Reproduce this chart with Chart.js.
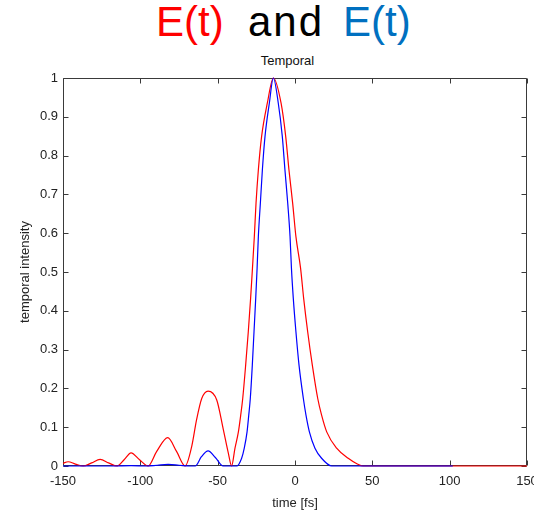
<!DOCTYPE html>
<html>
<head>
<meta charset="utf-8">
<script src="https://cdn.jsdelivr.net/npm/chart.js@4"></script>
<style>
    html, body { margin: 0; padding: 0; background: #fff; }
    #wrap { position: relative; width: 534px; height: 517px; overflow: hidden; }
    #chart { position: absolute; left: 0; top: 0; }
    .big { position: absolute; top: 1px; font: 42px/42px 'Liberation Sans', Arial, sans-serif; white-space: nowrap; }
    #sub { position: absolute; left: 287.5px; top: 54px; transform: translateX(-50%);
           font: 13px/13px 'Liberation Sans', Arial, sans-serif; color: #111; white-space: nowrap; }
</style>
</head>
<body>
<div id="wrap">
    <span class="big" style="left:156px;color:#ff0000">E(t)</span>
    <span class="big" style="left:248px;color:#000;letter-spacing:2px">and</span>
    <span class="big" style="left:343px;color:#0070c0">E(t)</span>
    <div id="sub">Temporal</div>
    <canvas id="chart" width="560" height="517"></canvas>
</div>
<script>
// Intensity profiles, time in fs
const redTime = [-150, -146.7, -142, -137, -131.5, -126, -120.5, -115, -110.5, -106, -100.5, -95,
    -89.5, -82.3, -76.5, -71, -66.8, -63.6, -60.3, -56.2, -50.6, -46.3, -43.1, -41,
    -38.8, -36.6, -35.1, -33.8, -31.9, -30.2, -28.7, -27.5, -26.3, -25.2, -23.7, -21.6,
    -17.9, -14, -9.0, -6.0, -3.9, -1.5, 0.6, 3.6, 5.6, 8.2, 11.2, 14.7,
    17.2, 20.5, 26.9, 34.4, 40, 44, 150];
const redValue = [0.007, 0.011, 0.005, 0.0, 0.008, 0.017, 0.008, 0.0, 0.016, 0.034, 0.016, 0.0,
    0.037, 0.073, 0.037, 0.0, 0.05, 0.12, 0.174, 0.193, 0.17, 0.093, 0.033, 0.0,
    0.046, 0.088, 0.131, 0.174, 0.26, 0.346, 0.432, 0.51, 0.591, 0.677, 0.763, 0.849,
    0.935, 1.0, 0.935, 0.849, 0.763, 0.677, 0.591, 0.51, 0.432, 0.346, 0.26, 0.174,
    0.131, 0.088, 0.046, 0.02, 0.006, 0.0, 0.0];

const blueTime = [-150, -118, -106, -96, -89, -82, -75, -68, -64.5, -60.5, -56.2, -51.5,
    -46.5, -37.7, -34.5, -32.8, -31.0, -29.9, -28.9, -27.6, -26.5, -25.4, -24.5, -23.7,
    -22.4, -21.1, -19.4, -16.6, -14, -10.8, -8.2, -6.5, -4.7, -3.2, -2.3, -1.1,
    0.6, 2.6, 5.4, 7.1, 9.3, 12.9, 17.2, 23.7, 102];
const blueValue = [0, 0, 0.001, 0, 0.002, 0.004, 0.002, 0, 0.0, 0.024, 0.039, 0.022,
    0, 0, 0.02, 0.046, 0.088, 0.131, 0.174, 0.26, 0.346, 0.432, 0.51, 0.591,
    0.677, 0.763, 0.849, 0.935, 1.0, 0.935, 0.849, 0.763, 0.677, 0.591, 0.51, 0.432,
    0.346, 0.26, 0.174, 0.131, 0.088, 0.046, 0.02, 0, 0];

const xTicks = [-150, -100, -50, 0, 50, 100, 150];
const yTicks = [0, 0.1, 0.2, 0.3, 0.4, 0.5, 0.6, 0.7, 0.8, 0.9, 1];

const axisColor = '#3a3a3a';
const labelFont = { family: "'Liberation Sans', Arial, sans-serif", size: 13 };

function toPoints(xs, ys) {
    return xs.map((t, i) => ({ x: t, y: ys[i] }));
}

// Closed box with inward tick marks on all four sides
const boxAxes = {
    id: 'boxAxes',
    beforeDatasetsDraw(chart) {
        const { ctx, chartArea: a, scales: { x, y } } = chart;
        const len = 5;
        const L = Math.round(a.left) + 0.5, R = Math.round(a.right) - 0.5;
        const T = Math.round(a.top) + 0.5, B = Math.round(a.bottom) - 0.5;
        ctx.save();
        ctx.strokeStyle = axisColor;
        ctx.lineWidth = 1;
        ctx.beginPath();
        ctx.rect(L, T, R - L, B - T);
        x.ticks.forEach(tk => {
            const px = Math.round(x.getPixelForValue(tk.value)) + 0.5;
            ctx.moveTo(px, B); ctx.lineTo(px, B - len);
            ctx.moveTo(px, T); ctx.lineTo(px, T + len);
        });
        y.ticks.forEach(tk => {
            const py = Math.round(y.getPixelForValue(tk.value)) + 0.5;
            ctx.moveTo(L, py); ctx.lineTo(L + len, py);
            ctx.moveTo(R, py); ctx.lineTo(R - len, py);
        });
        ctx.stroke();
        ctx.restore();
    }
};

new Chart(document.getElementById('chart'), {
    type: 'line',
    data: {
        datasets: [
            {
                label: 'E(t) blue',
                data: toPoints(blueTime, blueValue),
                borderColor: '#0000ff',
                borderWidth: 1.2,
                pointRadius: 0,
                cubicInterpolationMode: 'monotone',
                clip: 3
            },
            {
                label: 'E(t) red',
                data: toPoints(redTime, redValue),
                borderColor: '#ff0000',
                borderWidth: 1.2,
                pointRadius: 0,
                cubicInterpolationMode: 'monotone',
                clip: 3
            }
        ]
    },
    options: {
        responsive: false,
        animation: false,
        layout: { padding: { top: 78, right: 33, bottom: 0, left: 0 } },
        plugins: {
            legend: { display: false },
            tooltip: { enabled: false }
        },
        scales: {
            x: {
                type: 'linear',
                min: -150,
                max: 150,
                grid: { display: false, drawTicks: false },
                border: { display: false },
                afterBuildTicks: scale => { scale.ticks = xTicks.map(v => ({ value: v })); },
                afterFit: scale => { scale.height = 51; },
                ticks: { color: '#222', font: labelFont, padding: 8, maxRotation: 0 },
                title: { display: true, text: 'time [fs]', color: '#222', font: labelFont, padding: { top: 0, bottom: 6 } }
            },
            y: {
                min: 0,
                max: 1,
                grid: { display: false, drawTicks: false },
                border: { display: false },
                afterBuildTicks: scale => { scale.ticks = yTicks.map(v => ({ value: v })); },
                afterFit: scale => { scale.width = 63; },
                ticks: {
                    color: '#222',
                    font: labelFont,
                    padding: 5,
                    callback: v => String(Math.round(v * 10) / 10)
                },
                title: { display: true, text: 'temporal intensity', color: '#222', font: labelFont, padding: { top: 18, bottom: 0 } }
            }
        }
    },
    plugins: [boxAxes]
});
</script>
</body>
</html>
